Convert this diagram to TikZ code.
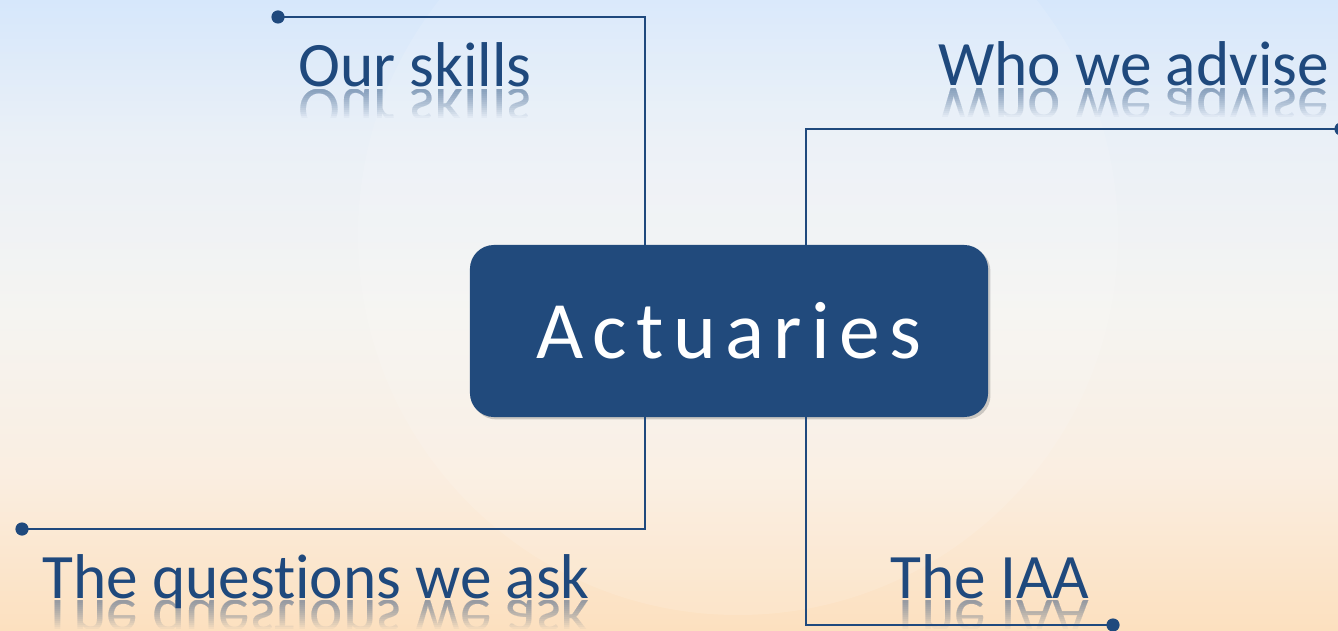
\documentclass[tikz,border=0pt]{standalone}
\usepackage{fontspec}
\setmainfont{Carlito}[Ligatures=NoCommon]
\usepackage{tikz}
\usetikzlibrary{positioning,shadows}

\definecolor{navy}{HTML}{1F497D}
\definecolor{boxblue}{HTML}{214A7C}
\definecolor{skytop}{HTML}{D6E7FB}
\definecolor{skylow}{HTML}{EAF0F7}
\definecolor{haze}{HTML}{F5F4F1}
\definecolor{cream}{HTML}{FAEEE1}
\definecolor{peach}{HTML}{FCE0BF}

% sky fading from peach at the bottom to blue at the top (the path spans 25bp to 75bp)
\pgfdeclareverticalshading{sunrise}{100bp}{color(0bp)=(peach); color(25bp)=(peach); color(37.5bp)=(cream);
	color(50bp)=(haze); color(64bp)=(skylow); color(75bp)=(skytop); color(100bp)=(skytop)}

\tikzset{
	branch/.style={draw=navy, line width=0.05cm},
	dot/.style={circle, fill=navy, inner sep=0pt, minimum size=0.33cm},
	topic/.style={font=\fontsize{45}{54}\selectfont, text=navy, inner sep=0pt, anchor=base west},
	hub/.style={rounded corners=0.6cm, fill=boxblue, text=white, minimum width=12.95cm, minimum height=4.3cm,
		font=\fontsize{58}{70}\selectfont\addfontfeature{LetterSpace=11.5},
		drop shadow={shadow xshift=0.06cm, shadow yshift=-0.06cm, opacity=0.3, fill=black!60}},
}

% mirrored copy of a caption, stacked in thin layers so it fades downwards
\newcommand{\mirrortopic}[2]{%
	\foreach \k in {1,...,14}{
		\begin{scope}
			\clip ([xshift=-0.2cm, yshift=-0.07cm]#1.base west) rectangle ([xshift=0.2cm, yshift={-(0.07+0.05*\k)*1cm}]#1.base east);
			\node[topic, yscale=-1, transform shape, opacity=0.04] at ([yshift=-0.07cm]#1.base west) {#2};
		\end{scope}
	}}

\begin{document}
\begin{tikzpicture}[x=0.025cm, y=-0.025cm]
	\useasboundingbox (0,0) rectangle (1338,630);
	\clip (0,0) rectangle (1338,630);

	% Background:
	\shade[shading=sunrise] (0,0) rectangle (1338,630);
	\fill[white, opacity=0.12] (738,235) circle (380);

	% Centre box:
	\node[hub] (act) at (729,331) {Actuaries};

	% Dots and bends:
	\node[dot] (skillsdot) at (278,17) {};
	\coordinate (skillsbend) at (645,17);
	\node[dot] (advisedot) at (1341,129) {};
	\coordinate (advisebend) at (806,129);
	\node[dot] (questionsdot) at (22,529) {};
	\coordinate (questionsbend) at (645,529);
	\node[dot] (iaadot) at (1113,625) {};
	\coordinate (iaabend) at (806,625);

	% Wires:
	\draw[branch] (skillsdot.center) -- (skillsbend) -- (skillsbend |- act.north);
	\draw[branch] (advisedot.center) -- (advisebend) -- (advisebend |- act.north);
	\draw[branch] (questionsdot.center) -- (questionsbend) -- (questionsbend |- act.south);
	\draw[branch] (iaadot.center) -- (iaabend) -- (iaabend |- act.south);

	% Captions:
	\node[topic] (skills) at (298,87) {Our skills};
	\node[topic] (advise) at (938,86) {Who we advise};
	\node[topic] (questions) at (42,598) {The questions we ask};
	\node[topic] (iaa) at (890,598) {The IAA};
	\mirrortopic{skills}{Our skills}
	\mirrortopic{advise}{Who we advise}
	\mirrortopic{questions}{The questions we ask}
	\mirrortopic{iaa}{The IAA}
\end{tikzpicture}
\end{document}
